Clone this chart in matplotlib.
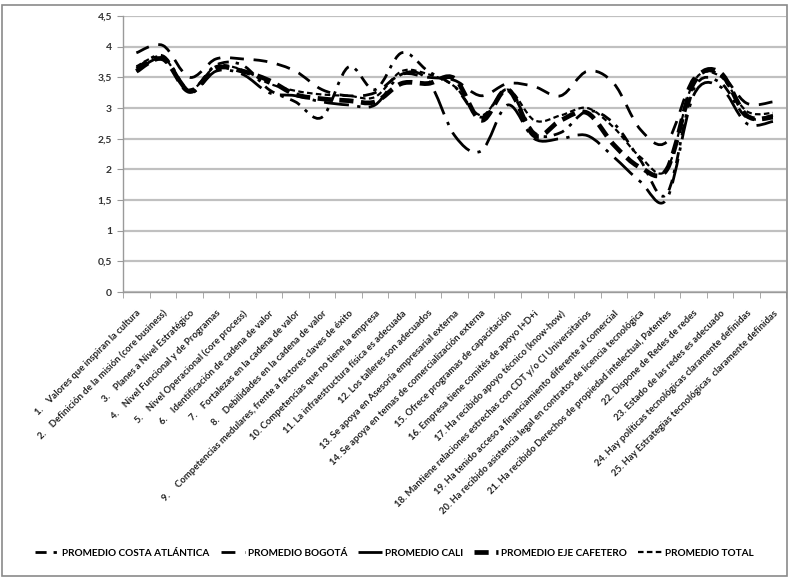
import matplotlib
matplotlib.use("Agg")
import matplotlib.pyplot as plt
from matplotlib.path import Path
from matplotlib.patches import PathPatch, Rectangle
from matplotlib.lines import Line2D
from matplotlib.ticker import FuncFormatter, MultipleLocator

plt.rcParams["font.family"] = ["Lato", "DejaVu Sans"]

categories = [
    "1.    Valores que inspiran la cultura",
    "2.    Definición de la misión (core business)",
    "3.    Planes a Nivel Estratégico",
    "4.    Nivel Funcional y de Programas",
    "5.    Nivel Operacional (core process)",
    "6.    Identificación de cadena de valor",
    "7.    Fortalezas en la cadena de valor",
    "8.    Debilidades en la cadena de valor",
    "9.     Competencias medulares, frente a factores claves de éxito",
    "10. Competencias que no tiene la empresa",
    "11. La infraestructura física es adecuada",
    "12. Los talleres son adecuados",
    "13. Se apoya en Asesoría empresarial externa",
    "14. Se apoya en temas de comercialización externa",
    "15. Ofrece programas de capacitación",
    "16. Empresa tiene comités de apoyo I+D+i",
    "17. Ha recibido apoyo técnico (know-how)",
    "18. Mantiene relaciones estrechas con CDT y/o CI Universitarios",
    "19. Ha tenido acceso a financiamiento diferente al comercial",
    "20. Ha recibido asistencia legal en contratos de licencia tecnológica",
    "21. Ha recibido Derechos de propiedad intelectual, Patentes",
    "22. Dispone de Redes de redes",
    "23. Estado de las redes es adecuado",
    "24. Hay políticas tecnológicas claramente definidas",
    "25. Hay Estrategias tecnológicas  claramente definidas",
]

costa_atlantica = [3.65, 3.85, 3.30, 3.70, 3.70, 3.30, 3.10, 2.85, 3.67, 3.30,
                   3.90, 3.60, 3.35, 2.85, 3.30, 2.60, 2.60, 2.95, 2.75, 2.15,
                   1.60, 3.30, 3.42, 2.85, 2.88]
bogota = [3.90, 4.02, 3.50, 3.80, 3.80, 3.75, 3.60, 3.30, 3.20, 3.25,
          3.55, 3.50, 3.45, 3.20, 3.40, 3.35, 3.20, 3.60, 3.40, 2.65,
          2.45, 3.48, 3.55, 3.08, 3.10]
cali = [3.60, 3.80, 3.25, 3.60, 3.55, 3.25, 3.20, 3.10, 3.05, 3.05,
        3.55, 3.45, 2.55, 2.30, 3.05, 2.50, 2.50, 2.55, 2.20, 1.80,
        1.52, 3.20, 3.35, 2.75, 2.78]
eje_cafetero = [3.60, 3.80, 3.27, 3.65, 3.60, 3.45, 3.22, 3.15, 3.12, 3.10,
                3.40, 3.40, 3.48, 2.80, 3.30, 2.55, 2.80, 2.92, 2.40, 2.03,
                2.00, 3.40, 3.58, 2.88, 2.85]
total = [3.68, 3.83, 3.30, 3.68, 3.62, 3.40, 3.28, 3.22, 3.20, 3.18,
         3.60, 3.55, 3.35, 2.88, 3.30, 2.80, 2.88, 3.00, 2.68, 2.20,
         2.00, 3.42, 3.52, 2.95, 2.92]

series_names = ["PROMEDIO COSTA ATLÁNTICA", "PROMEDIO BOGOTÁ", "PROMEDIO CALI",
                "PROMEDIO EJE CAFETERO", "PROMEDIO TOTAL"]
series_values = [costa_atlantica, bogota, cali, eje_cafetero, total]
series_styles = [
    dict(lw=2.0, dashes=(4, 2.5, 1.2, 2.5)),
    dict(lw=2.0, dashes=(5, 3.5)),
    dict(lw=2.0, dashes=(9, 3, 1.2, 3)),
    dict(lw=3.4, dashes=(3, 1.6)),
    dict(lw=1.6, dashes=(2.5, 1.5)),
]


def smooth_path(xs, ys):
    """Cubic Bezier path through the points (Catmull-Rom style tangents)."""
    n = len(xs)
    verts = [(xs[0], ys[0])]
    codes = [Path.MOVETO]
    for i in range(n - 1):
        a = i - 1 if i > 0 else i
        d = i + 2 if i + 2 < n else i + 1
        c1 = (xs[i] + (xs[i + 1] - xs[a]) / 6.0, ys[i] + (ys[i + 1] - ys[a]) / 6.0)
        c2 = (xs[i + 1] - (xs[d] - xs[i]) / 6.0, ys[i + 1] - (ys[d] - ys[i]) / 6.0)
        verts += [c1, c2, (xs[i + 1], ys[i + 1])]
        codes += [Path.CURVE4] * 3
    return Path(verts, codes)


fig = plt.figure(figsize=(7.89, 5.78), dpi=100)
ax = fig.add_axes([0.156, 0.4948, 0.8405, 0.4775])

x = list(range(1, len(categories) + 1))
handles = []
for name, vals, st in zip(series_names, series_values, series_styles):
    patch = PathPatch(smooth_path(x, vals), fill=False, edgecolor="black",
                      linewidth=st["lw"], linestyle=(0, st["dashes"]),
                      capstyle="butt", joinstyle="round", zorder=3)
    ax.add_patch(patch)
    handles.append(Line2D([], [], color="black", lw=st["lw"],
                          linestyle=(0, st["dashes"]), dash_capstyle="butt",
                          label=name))

ax.set_xlim(0.5, len(categories) + 0.5)
ax.set_ylim(0, 4.5)
ax.yaxis.set_major_locator(MultipleLocator(0.5))
ax.yaxis.set_major_formatter(FuncFormatter(
    lambda v, p: ("%g" % v).replace(".", ",")))
ax.grid(axis="y", color="#c0c0c0", lw=1.6, zorder=0)
ax.set_axisbelow(True)

for side in ("top", "right"):
    ax.spines[side].set_visible(False)
for side in ("left", "bottom"):
    ax.spines[side].set_color("#9a9a9a")
    ax.spines[side].set_linewidth(1.0)

ax.tick_params(axis="y", length=4, color="#9a9a9a", labelsize=7.5,
               labelcolor="#333333", pad=4)
ax.set_xticks(x)
ax.set_xticks([i + 0.5 for i in range(0, len(categories) + 1)], minor=True)
ax.tick_params(axis="x", which="major", length=0, pad=12)
ax.tick_params(axis="x", which="minor", length=4, color="#9a9a9a")
ax.set_xticklabels(categories, rotation=45, ha="right", va="top",
                   rotation_mode="anchor", fontsize=6.8, color="#222222",
                   fontweight="bold")
for lab in ax.get_yticklabels():
    lab.set_fontweight("bold")

fig.legend(handles=handles, loc="center", bbox_to_anchor=(0.5, 0.043),
           ncol=5, frameon=False, handlelength=2.4,
           handletextpad=0.3, columnspacing=1.1,
           prop=dict(size=7.2, weight="bold"))

fig.patches.append(Rectangle((0.003, 0.004), 0.994, 0.988,
                             transform=fig.transFigure, fill=False,
                             edgecolor="#8a8a8a", lw=1.2))

fig.savefig("out.png", dpi=100)
